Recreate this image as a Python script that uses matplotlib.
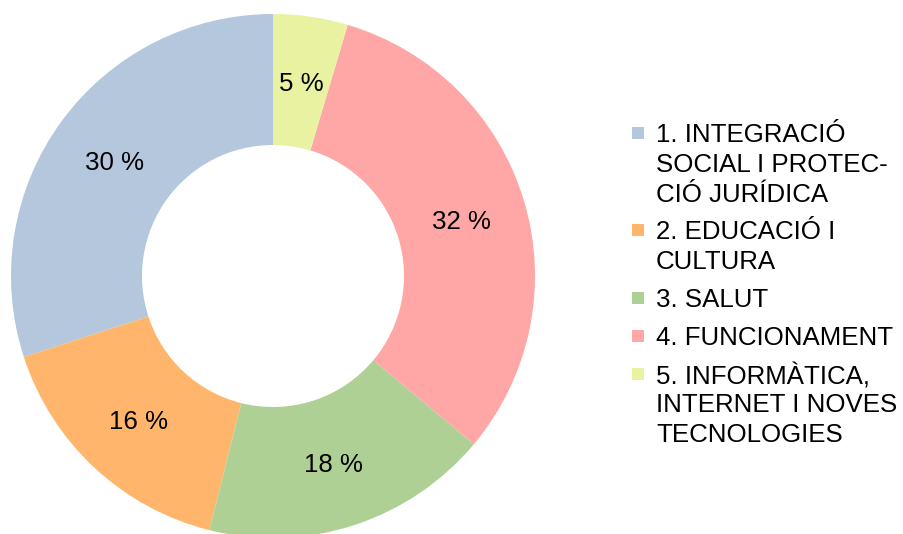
import numpy as np
import matplotlib.pyplot as plt
from matplotlib.patches import Rectangle

# Data (shares, labels are rounded)
categories = ['1. INTEGRACIÓ\nSOCIAL I PROTEC-\nCIÓ JURÍDICA',
              '2. EDUCACIÓ I\nCULTURA',
              '3. SALUT',
              '4. FUNCIONAMENT',
              '5. INFORMÀTICA,\nINTERNET I NOVES\nTECNOLOGIES']
values = [30.0, 16.1, 17.8, 31.5, 4.6]
colors = ['#b4c7dc', '#ffb66c', '#afd095', '#ffa6a6', '#e8f2a1']

plt.rcParams['font.family'] = ['Liberation Sans', 'DejaVu Sans']
FS = 18.6

W, H = 904, 534
fig = plt.figure(figsize=(W / 100, H / 100), dpi=100)

# donut: centre (273, 276) px from top-left, outer radius 262 px
cx, cy, r = 273, 276, 262
ax = fig.add_axes([(cx - r) / W, (H - cy - r) / H, 2 * r / W, 2 * r / H])
wedges, texts = ax.pie(values, colors=colors, startangle=90, counterclock=True,
                       radius=1, wedgeprops=dict(width=0.5, linewidth=0))
ax.set_xlim(-1, 1)
ax.set_ylim(-1, 1)
ax.axis('off')

# percentage labels in the middle of the ring
for w, v in zip(wedges, values):
    ang = np.deg2rad((w.theta1 + w.theta2) / 2)
    ax.text(0.75 * np.cos(ang), 0.75 * np.sin(ang), f'{round(v)} %',
            ha='center', va='center_baseline', fontsize=FS, color='black')

# legend, drawn by hand so the swatch sits on the first line
line_h = 29.5
gap = 8.5
y = 133
for lab, c in zip(categories, colors):
    fig.patches.append(Rectangle(((632) / W, 1 - (y + 6) / H), 12 / W, 12 / H,
                                 transform=fig.transFigure, facecolor=c,
                                 edgecolor='none'))
    for line in lab.split('\n'):
        fig.text(656 / W, 1 - y / H, line, ha='left', va='center_baseline',
                 fontsize=FS, color='black')
        y += line_h
    y += gap

fig.savefig('out.png', dpi=100)
